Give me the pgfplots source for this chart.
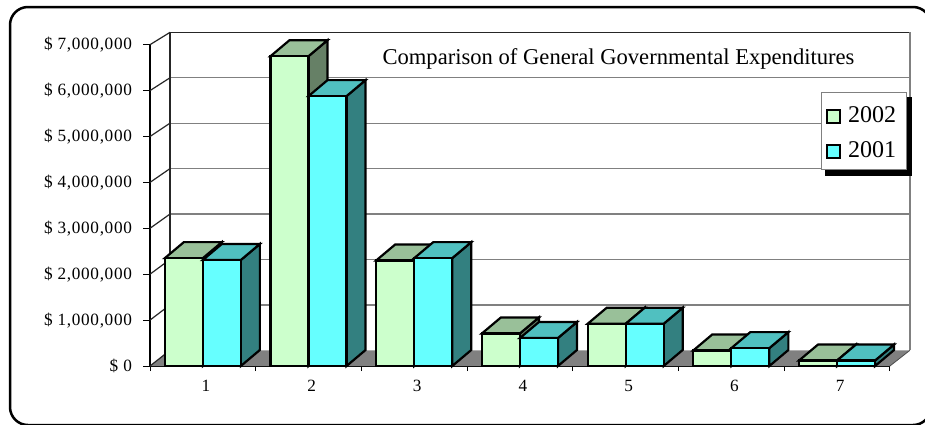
\documentclass[border=0pt]{standalone}
\usepackage{fontspec}
\setmainfont{Liberation Serif}
\usepackage{pgfplots}
\pgfplotsset{compat=1.18}
\definecolor{gfront}{RGB}{204,255,204}
\definecolor{gtop}{RGB}{153,192,153}
\definecolor{gside}{RGB}{102,128,102}
\definecolor{cfront}{RGB}{102,255,255}
\definecolor{ctop}{RGB}{80,192,192}
\definecolor{cside}{RGB}{51,128,128}
\definecolor{floorgray}{RGB}{128,128,128}
\pgfdeclareplotmark{emptymark}{}
% #1 left offset (pt), #2 front, #3 top, #4 side
\newcommand\barbox[4]{%
  \pgfmathsetmacro\hh{\val*22.95}%
  \filldraw[fill=#4,draw=black,line width=1.1pt,line join=miter] (#1pt+19pt,0pt) -- ++(9.5pt,8pt) -- ++(0pt,-\hh pt) -- ++(-9.5pt,-8pt) -- cycle;
  \filldraw[fill=#3,draw=black,line width=1.1pt,line join=miter] (#1pt,0pt) -- ++(9.5pt,8pt) -- ++(19pt,0pt) -- ++(-9.5pt,-8pt) -- cycle;
  \filldraw[fill=#2,draw=black,line width=1.1pt] (#1pt,-\hh pt) rectangle (#1pt+19pt,0pt);
}
\pgfplotstableread{
x y
1 2.35
2 6.75
3 2.30
4 0.71
5 0.92
6 0.34
7 0.12
}\dataA
\pgfplotstableread{
x y
1 2.31
2 5.88
3 2.35
4 0.61
5 0.92
6 0.39
7 0.12
}\dataB
\begin{document}
\begin{tikzpicture}
\useasboundingbox (0pt,0pt) rectangle (462.5pt,-212pt);
\fill[white] (0pt,0pt) rectangle (462.5pt,-212pt);
\draw[line width=1.25pt,rounded corners=9pt] (5pt,-3.5pt) rectangle (465.5pt,-212.5pt);
\node[font=\fontsize{11.3}{13}\selectfont,anchor=base,inner sep=0pt] at (309.25pt,-32.15pt) {Comparison of General Governmental Expenditures};
\begin{axis}[
  at={(75pt,-183pt)}, anchor=south west,
  x=52.85pt, y=22.95pt,
  xmin=0.5, xmax=7.5, ymin=0, ymax=7,
  clip=false,
  axis x line*=bottom, axis y line*=left,
  axis line style={-,black,line width=0.6pt},
  tick align=outside,
  xtick={1,...,7}, xticklabels={1,2,3,4,5,6,7},
  major x tick style={draw=none},
  minor xtick={0.5,1.5,...,7.5},
  minor tick length=2.5pt,
  minor x tick style={black,line width=0.5pt},
  ytick={0,...,7},
  yticklabels={{\$ 0},{\$ 1,000,000},{\$ 2,000,000},{\$ 3,000,000},{\$ 4,000,000},{\$ 5,000,000},{\$ 6,000,000},{\$ 7,000,000}},
  major tick length=3.5pt,
  major y tick style={black,line width=0.5pt},
  yticklabel style={font=\fontsize{8.6}{10}\selectfont\addfontfeature{LetterSpace=4}, xshift=-2pt},
  xticklabel style={font=\fontsize{8.6}{10}\selectfont, xshift=1.5pt},
  legend style={at={(axis cs:6.855,5.87)}, anchor=north west, draw=none, fill=none,
    font=\fontsize{12}{13}\selectfont, inner xsep=2pt, inner ysep=3pt, row sep=4pt,
    /tikz/every odd column/.append style={column sep=1.5pt}},
  legend cell align=left,
]
% floor
\fill[floorgray] (axis cs:0.5,0) -- (axis cs:7.5,0) -- (axis cs:7.689,0.342) -- (axis cs:0.689,0.342) -- cycle;
\draw[black!70,line width=0.4pt] (axis cs:7.5,0) -- (axis cs:7.689,0.342);
% back wall gridlines
\draw[floorgray,line width=0.7pt] (axis cs:0.689,1.3315) -- (axis cs:7.689,1.3315);
\draw[floorgray,line width=0.7pt] (axis cs:0.689,2.321) -- (axis cs:7.689,2.321);
\draw[floorgray,line width=0.7pt] (axis cs:0.689,3.3105) -- (axis cs:7.689,3.3105);
\draw[floorgray,line width=0.7pt] (axis cs:0.689,4.300) -- (axis cs:7.689,4.300);
\draw[floorgray,line width=0.7pt] (axis cs:0.689,5.2895) -- (axis cs:7.689,5.2895);
\draw[floorgray,line width=0.7pt] (axis cs:0.689,6.279) -- (axis cs:7.689,6.279);
% side-wall diagonals
\draw[black!85,line width=0.6pt] (axis cs:0.5,0) -- (axis cs:0.689,0.342);
\draw[black!85,line width=0.6pt] (axis cs:0.5,1) -- (axis cs:0.689,1.3315);
\draw[black!85,line width=0.6pt] (axis cs:0.5,2) -- (axis cs:0.689,2.321);
\draw[black!85,line width=0.6pt] (axis cs:0.5,3) -- (axis cs:0.689,3.3105);
\draw[black!85,line width=0.6pt] (axis cs:0.5,4) -- (axis cs:0.689,4.300);
\draw[black!85,line width=0.6pt] (axis cs:0.5,5) -- (axis cs:0.689,5.2895);
\draw[black!85,line width=0.6pt] (axis cs:0.5,6) -- (axis cs:0.689,6.279);
\draw[black!85,line width=0.6pt] (axis cs:0.5,7) -- (axis cs:0.689,7.2685);
\draw[black!85,line width=0.6pt] (axis cs:0.689,0.342) -- (axis cs:0.689,7.2685) -- (axis cs:7.689,7.2685);
\draw[floorgray,line width=0.7pt] (axis cs:7.689,0.342) -- (axis cs:7.689,7.2685);
% legend box with shadow
\fill[black] (axis cs:6.8875,5.861) rectangle (axis cs:7.706,4.133);
\filldraw[fill=white,draw=gray,line width=0.4pt] (axis cs:6.855,5.957) rectangle (axis cs:7.653,4.279);
\addplot[scatter, only marks, mark=emptymark,
  visualization depends on={rawy \as \val},
  scatter/@pre marker code/.code={\barbox{-19}{gfront}{gtop}{gside}},
  scatter/@post marker code/.code={},
  legend image code/.code={\filldraw[fill=gfront,draw=black,line width=0.9pt] (0pt,-3.3pt) rectangle (6.6pt,3.3pt);}
] table[x=x,y=y] {\dataA};
\addlegendentry{2002}
\addplot[scatter, only marks, mark=emptymark,
  visualization depends on={rawy \as \val},
  scatter/@pre marker code/.code={\barbox{0}{cfront}{ctop}{cside}},
  scatter/@post marker code/.code={},
  legend image code/.code={\filldraw[fill=cfront,draw=black,line width=0.9pt] (0pt,-3.3pt) rectangle (6.6pt,3.3pt);}
] table[x=x,y=y] {\dataB};
\addlegendentry{2001}
\end{axis}
\end{tikzpicture}
\end{document}
